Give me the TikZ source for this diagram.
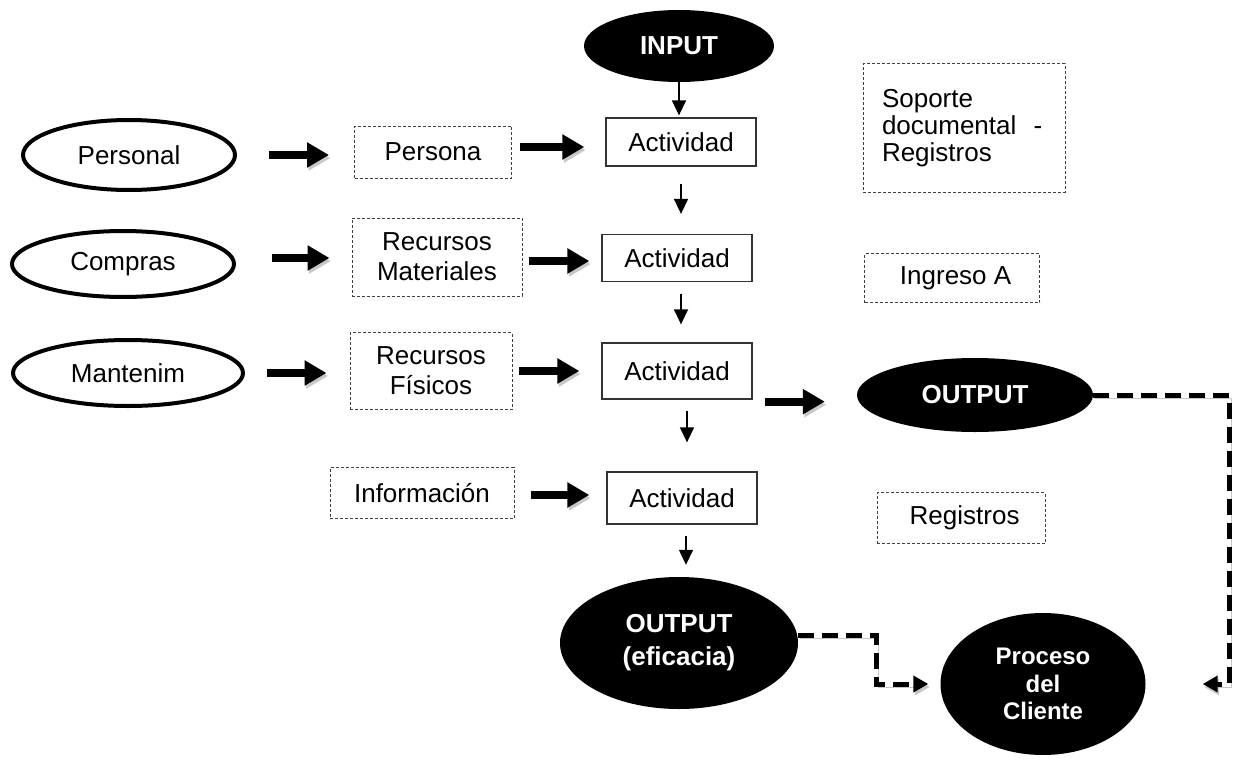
\documentclass[tikz,border=0pt]{standalone}
\usepackage{fontspec}
\setmainfont{Liberation Sans}
\usetikzlibrary{arrows.meta,shapes.geometric}
\begin{document}
\begin{tikzpicture}[x=1pt,y=-1pt,
  every node/.style={font=\fontsize{26}{30}\selectfont, inner sep=0pt, align=center},
  src/.style={ellipse, draw=black, line width=4pt, fill=white},
  blk/.style={ellipse, fill=black, text=white, font=\fontsize{26}{33}\selectfont\bfseries},
  act/.style={draw=black!80, line width=1.3pt, minimum width=150pt},
  res/.style={draw=black!75, line width=1pt, dash pattern=on 3pt off 2pt},
  softshadow/.style={preaction={draw=black!22, transform canvas={shift={(1.5pt,-3pt)}}}},
  thinarrow/.style={-{Triangle[length=15pt,width=14pt]}, line width=1.5pt},
  fatarrow/.style={-{Triangle[length=22pt,width=24pt]}, line width=8pt, softshadow},
  flow/.style={line width=5pt, dash pattern=on 16pt off 8pt,
    -{Triangle[length=15pt,width=16pt]}, softshadow}
]
\useasboundingbox (0,0) rectangle (1237,760);

% main activity column
\node[blk, minimum width=190pt, minimum height=72pt] (in) at (679,46) {INPUT};
\node[act, minimum height=48pt] (act1) at (681,142) {Actividad};
\node[act, minimum height=47pt] (act2) at (677,258) {Actividad};
\node[act, minimum height=56pt] (act3) at (677,371) {Actividad};
\node[act, minimum height=52pt] (act4) at (682,498) {Actividad};
\node[blk, minimum width=238pt, minimum height=132pt] (outef) at (679,643) {OUTPUT\\(eficacia)};

% sources and resources
\node[src, minimum width=212pt, minimum height=70pt] (pers) at (129,155) {Personal};
\node[src, minimum width=222pt, minimum height=66pt] (comp) at (123,264) {Compras};
\node[src, minimum width=230pt, minimum height=66pt] (mant) at (128,373) {Mantenim};
\node[res, minimum width=157pt, minimum height=52pt] (persona) at (433,152) {Persona};
\node[res, minimum width=170pt, minimum height=78pt] (recmat) at (437,257) {Recursos\\Materiales};
\node[res, minimum width=162pt, minimum height=77pt] (recfis) at (431,371) {Recursos\\Físicos};
\node[res, minimum width=184pt, minimum height=51pt] (info) at (422,493) {Información};

% records and outputs on the right
\node[res, minimum width=202pt, minimum height=128pt, text width=164pt,
  align=left, font=\fontsize{26}{27}\selectfont] (sop) at (964,128)
  {Soporte\\documental~~-\\Registros};
\node[res, minimum width=175pt, minimum height=49pt] (ing) at (952,278) {~Ingreso A};
\node[res, minimum width=168pt, minimum height=51pt] (reg) at (961,518) {~Registros};
\node[blk, minimum width=236pt, minimum height=74pt] (out) at (975,395) {OUTPUT};
\node[blk, minimum width=205pt, minimum height=142pt, font=\fontsize{24}{27.5}\selectfont\bfseries]
  (proc) at (1043,684) {Proceso\\del\\Cliente};

% vertical flow
\draw[thinarrow, shorten >=2pt] (in.south) -- (in.south |- act1.north);
\draw[thinarrow, shorten <=17pt, shorten >=20pt] (act1.south) -- (act1.south |- act2.north);
\draw[thinarrow, shorten <=12pt, shorten >=18pt] ([xshift=4pt]act2.south) -- ([xshift=4pt]act2.south |- act3.north);
\draw[thinarrow, shorten <=11pt, shorten >=29pt] ([xshift=10pt]act3.south) -- ([xshift=10pt]act3.south |- act4.north);
\draw[thinarrow, shorten <=11pt, shorten >=12pt] ([xshift=4pt]act4.south) -- ([xshift=4pt]act4.south |- outef.north);

% resource inputs
\draw[fatarrow, shorten <=32pt, shorten >=25pt] (pers.east) -- (pers.east -| persona.west);
\draw[fatarrow, shorten <=8pt, shorten >=21pt] ([yshift=5pt]persona.east) -- ([yshift=5pt]persona.east -| act1.west);
\draw[fatarrow, shorten <=36pt, shorten >=22pt] ([yshift=6pt]comp.east) -- ([yshift=6pt]comp.east -| recmat.west);
\draw[fatarrow, shorten <=6pt, shorten >=12pt] ([yshift=-4pt]recmat.east) -- ([yshift=-4pt]recmat.east -| act2.west);
\draw[fatarrow, shorten <=22pt, shorten >=23pt] (mant.east) -- (mant.east -| recfis.west);
\draw[fatarrow, shorten <=6pt, shorten >=22pt] (recfis.east) -- (recfis.east -| act3.west);
\draw[fatarrow, shorten <=16pt, shorten >=17pt] ([yshift=-2pt]info.east) -- ([yshift=-2pt]info.east -| act4.west);
\draw[fatarrow, shorten <=12pt, shorten >=32pt] ([yshift=-2pt]act3.south east) -- ([yshift=-2pt]act3.south east -| out.west);

% deliveries to the client process
\draw[flow] ([yshift=8pt]outef.east) -- ++(78,0) |- ([xshift=-12pt]proc.west);
\draw[flow] (out.east) -- ++(136,0) |- ([xshift=57pt]proc.east);
\end{tikzpicture}
\end{document}
